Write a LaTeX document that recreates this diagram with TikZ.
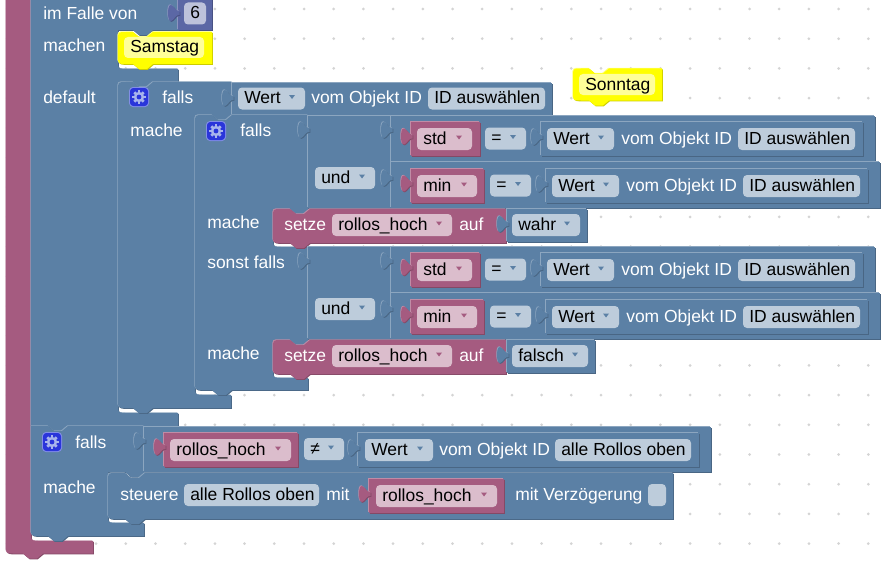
\documentclass[tikz,border=0pt]{standalone}
\usepackage{fontspec}
\setmainfont{Liberation Sans}
\definecolor{blu}{HTML}{5B80A5}
\definecolor{bluhi}{HTML}{8CA6C0}
\definecolor{blulo}{HTML}{496684}
\definecolor{blufield}{HTML}{BDCCDB}
\definecolor{pur}{HTML}{A55B80}
\definecolor{purhi}{HTML}{C08CA6}
\definecolor{purlo}{HTML}{844966}
\definecolor{purfield}{HTML}{DBBDCC}
\definecolor{num}{HTML}{5B67A5}
\definecolor{numhi}{HTML}{8C95C0}
\definecolor{numlo}{HTML}{495284}
\definecolor{numfield}{HTML}{BDC2DB}
\definecolor{yel}{HTML}{FFFF00}
\definecolor{yelhi}{HTML}{FFFF80}
\definecolor{yello}{HTML}{CCCC00}
\definecolor{yelfield}{HTML}{FFFF99}
\definecolor{gearbg}{HTML}{2A35DA}
\definecolor{gearfg}{HTML}{A8B4EC}
\definecolor{griddot}{HTML}{D4D4D4}
\newcount\txtno
\tikzset{
  txt/.style={inner sep=0pt,anchor=base west,font=\fontsize{13.1}{15}\selectfont},
  lightlabel/.style={txt,text=white},
  darklabel/.style={txt,text=black}
}
% statement notch, running rightwards along a top edge / leftwards along a bottom edge
\def\notchR#1#2{-- (#1-10,#2) -- (#1-4,#2+5) -- (#1+4,#2+5) -- (#1+10,#2)}
\def\notchL#1#2{-- (#1+10,#2) -- (#1+4,#2+5) -- (#1-4,#2+5) -- (#1-10,#2)}
% a block outline: light edge up-left, dark edge down-right, body on top
\newcommand\blockshape[2]{%
  \fill[#1hi,shift={(-0.7,-0.7)}] #2;
  \fill[#1lo,shift={(0.8,0.8)}] #2;
  \fill[#1] #2;}
\newcommand\rectblk[5]{\blockshape{#1}{(#2,#3) rectangle (#4,#5)}}
% puzzle tab on the left edge of a value block: round knob on a waisted neck
\newcommand\tabpiece[3]{\blockshape{#1}{(#2+1.5,#3+6) -- (#2,#3+6)
  .. controls (#2-3,#3+5) and (#2-4,#3+1) .. (#2-7,#3)
  .. controls (#2-9.5,#3-0.5) and (#2-10,#3+5) .. (#2-10,#3+8)
  .. controls (#2-10,#3+11) and (#2-9.5,#3+16.5) .. (#2-7,#3+16)
  .. controls (#2-4,#3+15) and (#2-3,#3+11) .. (#2,#3+10) -- (#2+1.5,#3+10) -- cycle}}
\newcommand\lbl[3]{\global\advance\txtno by 1
  \node[lightlabel] (txt\the\txtno) at (#1,#2+5.3) {#3};}
\newcommand\fld[5]{% theme, x1, x2, centre y, text
  \fill[#1field,rounded corners=3pt] (#2,#4-11) rectangle (#3,#4+11);
  \global\advance\txtno by 1
  \node[darklabel] (txt\the\txtno) at (#2+6,#4+5.3) {#5};}
\newcommand\ddfld[5]{\fld{#1}{#2}{#3}{#4}{#5}
  \fill[#1] (#3-16,#4-3.5) -- (#3-10,#4-3.5) -- (#3-13,#4+0.5) -- cycle;}
\newcommand\gearbtn[2]{%
  \fill[gearfg!70!gearbg,rounded corners=3pt] (#1-10,#2-10) rectangle (#1+10,#2+10);
  \fill[gearbg,rounded corners=2.5pt] (#1-9,#2-9) rectangle (#1+9,#2+9);
  \foreach \a in {0,45,...,315}
    \draw[gearfg,line width=2pt] ({#1+3*cos(\a)},{#2+3*sin(\a)}) -- ({#1+6.6*cos(\a)},{#2+6.6*sin(\a)});
  \fill[gearfg] (#1,#2) circle[radius=5.2];
  \fill[gearbg] (#1,#2) circle[radius=2.4];}
% a purple variable socket followed by a comparison with an object value
\newcommand\compare[9]{% y offset, var text, var right, field right, = left, = right, value left, value right, right text start
  \rectblk{pur}{411}{#1-17}{#3}{#1+17}
  \tabpiece{pur}{411}{#1-10.5}
  \ddfld{pur}{417}{#4}{#1}{#2}
  \ddfld{blu}{#5}{#6}{#1-0.5}{=}
  \rectblk{blu}{#7}{#1-17}{#8}{#1+17}
  \tabpiece{blu}{#7}{#1-10}
  \ddfld{blu}{#7+6}{#7+73}{#1}{Wert}
  \lbl{#7+80}{#1}{vom Objekt ID}
  \fld{blu}{#9}{#9+117}{#1}{ID auswählen}}
% logic block with its two comparisons, and the setter statement below it
\newcommand\condgroup[3]{% y offset, boolean text, right end of boolean block
  \rectblk{blu}{308}{116+#1}{391}{208+#1}
  \tabpiece{blu}{308}{122+#1}
  \ddfld{blu}{315}{375}{178+#1}{und}
  \rectblk{blu}{391}{116+#1}{875}{162+#1}
  \tabpiece{blu}{391}{122+#1}
  \rectblk{blu}{391}{162+#1}{880}{208+#1}
  \tabpiece{blu}{391}{170+#1}
  \compare{139+#1}{std}{480}{472}{485}{526}{541}{863}{738}
  \compare{186+#1}{min}{484}{477}{490}{531}{546}{868}{743}
  \blockshape{pur}{(273,217+#1) .. controls (273,209+#1) .. (281,209+#1) \notchR{300}{209+#1}
    -- (506,209+#1) -- (506,243+#1) \notchL{300}{243+#1} -- (281,243+#1)
    .. controls (273,243+#1) .. (273,235+#1) -- cycle}
  \lbl{284}{225+#1}{setze}
  \ddfld{pur}{332}{452}{225+#1}{rollos\_hoch}
  \lbl{459}{225+#1}{auf}
  \rectblk{blu}{507}{209+#1}{#3}{242+#1}
  \tabpiece{blu}{507}{216+#1}
  \ddfld{blu}{512}{#3-7}{225+#1}{#2}}
\begin{document}
\begin{tikzpicture}[x=0.75pt,y=-0.75pt]
\useasboundingbox (0,0) rectangle (888,560);
\fill[white] (0,0) rectangle (888,560);
\clip (0,0) rectangle (888,560);
% workspace grid
\foreach \i in {0,...,29}
  \foreach \j in {0,...,18}
    \fill[griddot] ({7+29.7*\i},{9+29.7*\j}) circle[radius=1.5];
% outer purple wrapper
\blockshape{pur}{(6,-5) -- (31,-5) -- (31,533) .. controls (31,541) .. (39,541) -- (93,541)
  -- (93,553.5) \notchL{33}{553.5} -- (14,553.5) .. controls (6,553.5) .. (6,545.5) -- cycle}
% switch block with its statement openings
\blockshape{blu}{(31,-5) -- (178,-5) -- (178,30) \notchL{143}{30} -- (118,30) -- (118,61)
  .. controls (118,69) .. (126,69) -- (178,69) -- (178,82) \notchL{143}{82} -- (118,82)
  -- (118,405) .. controls (118,413) .. (126,413) -- (178,413) -- (178,426)
  \notchL{58}{426} -- (31,426) -- cycle}
\lbl{43}{14}{im Falle von}
\lbl{43}{46}{machen}
\lbl{43}{98}{default}
% case value
\rectblk{num}{178}{-5}{212}{30}
\tabpiece{num}{178}{5}
\fld{num}{184}{206}{13.5}{6}
% comment blocks
\blockshape{yel}{(118,40) .. controls (118,32) .. (126,32) \notchR{143}{32} -- (212,32)
  -- (212,64) \notchL{143}{64} -- (126,64) .. controls (118,64) .. (118,56) -- cycle}
\fill[yelfield,rounded corners=3pt] (124,37) rectangle (204,58);
\node[darklabel] (samstag) at (130,53) {Samstag};
\blockshape{yel}{(573,76.5) .. controls (573,68.5) .. (581,68.5) \notchR{599}{68.5} -- (662,68.5)
  -- (662,100.5) \notchL{599}{100.5} -- (581,100.5) .. controls (573,100.5) .. (573,92.5) -- cycle}
\fill[yelfield,rounded corners=3pt] (579,74) rectangle (655,95);
\node[darklabel] (sonntag) at (585,90) {Sonntag};
% outer condition
\blockshape{blu}{(118,90) .. controls (118,82) .. (126,82) \notchR{143}{82} -- (232,82)
  -- (232,115) \notchL{222}{115} -- (195,115) -- (195,387) .. controls (195,395) .. (203,395)
  -- (231,395) -- (231,408) \notchL{143}{408} -- (126,408) .. controls (118,408) .. (118,400) -- cycle}
\gearbtn{139}{97}
\lbl{162}{98}{falls}
\lbl{130}{131}{mache}
\rectblk{blu}{232}{83}{552}{115}
\tabpiece{blu}{232}{90}
\ddfld{blu}{238}{305}{98.5}{Wert}
\lbl{311}{98.5}{vom Objekt ID}
\fld{blu}{428}{545}{98.5}{ID auswählen}
% nested condition with its else-if branch
\blockshape{blu}{(195,123) .. controls (195,115) .. (203,115) \notchR{222}{115} -- (308,115)
  -- (308,209) \notchL{300}{209} -- (273,209) -- (273,239) .. controls (273,247) .. (281,247)
  -- (308,247) -- (308,340) \notchL{300}{340} -- (273,340) -- (273,370) .. controls (273,378) .. (281,378)
  -- (308,378) -- (308,390) \notchL{222}{390} -- (203,390) .. controls (195,390) .. (195,382) -- cycle}
\gearbtn{216}{131}
\lbl{240}{131.5}{falls}
\lbl{207}{223.5}{mache}
\lbl{207}{263}{sonst falls}
\lbl{207}{354.5}{mache}
\condgroup{0}{wahr}{587}
\condgroup{131}{falsch}{595}
% last condition, which drives the blinds
\blockshape{blu}{(31,426) \notchR{58}{426} -- (144,426) -- (144,472) \notchL{135}{472} -- (108,472)
  -- (108,515) .. controls (108,523) .. (116,523) -- (144,523) -- (144,536) \notchL{58}{536}
  -- (39,536) .. controls (31,536) .. (31,528) -- cycle}
\gearbtn{52}{442}
\lbl{75}{443}{falls}
\lbl{43}{488}{mache}
\rectblk{blu}{144}{427}{711}{472}
\tabpiece{blu}{144}{433}
\rectblk{pur}{164}{433}{298}{467}
\tabpiece{pur}{164}{439}
\ddfld{pur}{170}{291}{450}{rollos\_hoch}
\ddfld{blu}{304}{344}{449}{≠}
\rectblk{blu}{358}{433}{699}{467}
\tabpiece{blu}{358}{440}
\ddfld{blu}{365}{433}{450}{Wert}
\lbl{439}{450}{vom Objekt ID}
\fld{blu}{555}{691}{450}{alle Rollos oben}
% actuator statement
\blockshape{blu}{(108,481) .. controls (108,473) .. (116,473) \notchR{135}{473} -- (673,473)
  -- (673,519) \notchL{135}{519} -- (116,519) .. controls (108,519) .. (108,511) -- cycle}
\lbl{120}{495}{steuere}
\fld{blu}{184}{319}{495}{alle Rollos oben}
\lbl{326}{495}{mit}
\rectblk{pur}{369}{479}{504}{513}
\tabpiece{pur}{369}{486}
\ddfld{pur}{376}{497}{496}{rollos\_hoch}
\lbl{515}{495}{mit Verzögerung}
\fill[blufield,rounded corners=3pt] (648,484) rectangle (666,506);
\end{tikzpicture}
\end{document}
